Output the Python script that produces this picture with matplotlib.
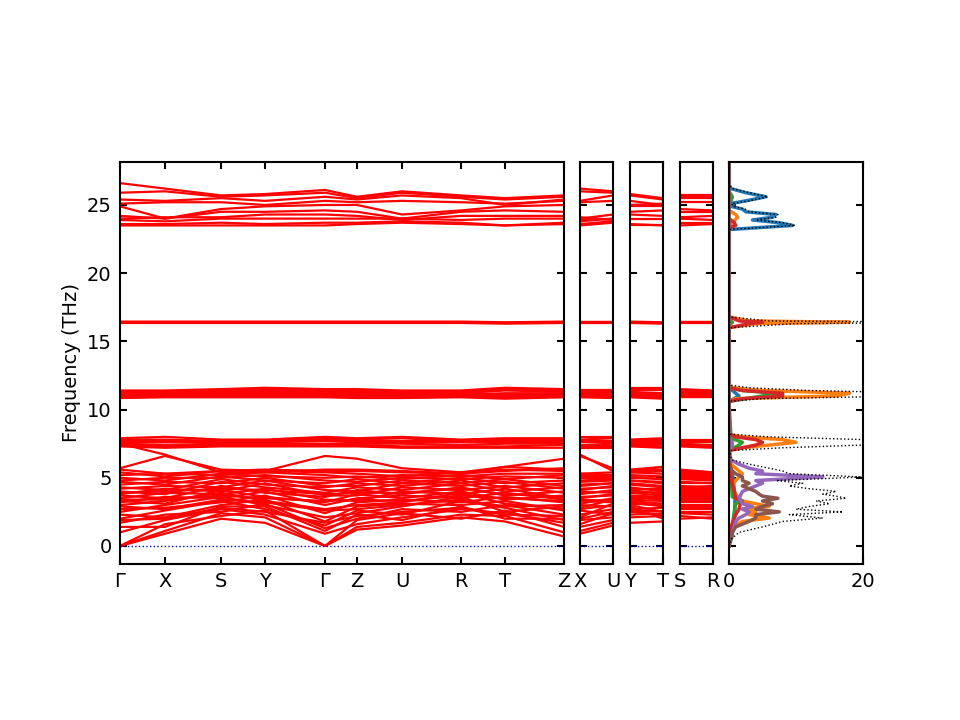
import matplotlib
matplotlib.use("Agg")
from matplotlib import pyplot as plt

# high-symmetry points along the main path (distance, label)
node_x = [0, 45, 101, 145, 205, 237, 282, 341, 385, 444]
node_labels = ["Γ", "X", "S", "Y", "Γ", "Z", "U", "R", "T", "Z"]

# side paths: indices into the main node list (start, end)
side_paths = [(1, 6, "X", "U"), (3, 8, "Y", "T"), (2, 7, "S", "R")]

# band frequencies (THz) at Γ X S Y Γ Z U R T Z
bands_top = [
    [26.6, 26.2, 25.7, 25.8, 26.1, 25.6, 26.0, 25.7, 25.5, 25.7],
    [25.9, 26.0, 25.6, 25.7, 25.9, 25.5, 25.9, 25.6, 25.4, 25.6],
    [25.4, 25.3, 25.5, 25.3, 25.6, 25.4, 25.7, 25.5, 25.0, 25.4],
    [25.1, 25.2, 25.2, 25.0, 25.3, 25.2, 25.3, 25.2, 25.1, 25.3],
    [24.9, 24.0, 24.7, 24.9, 25.0, 25.0, 24.3, 24.6, 24.9, 25.0],
    [24.2, 24.0, 24.5, 24.5, 24.6, 24.5, 24.0, 24.5, 24.6, 24.5],
    [24.0, 24.1, 24.1, 24.3, 24.3, 24.2, 23.9, 24.2, 24.2, 24.2],
    [23.9, 23.8, 24.0, 24.0, 24.0, 24.0, 24.0, 23.9, 24.0, 24.0],
    [23.6, 23.6, 23.7, 23.6, 23.7, 23.7, 23.8, 23.7, 23.5, 23.7],
    [23.5, 23.5, 23.5, 23.5, 23.5, 23.6, 23.7, 23.6, 23.5, 23.6],
]
bands_16 = [
    [16.45, 16.45, 16.45, 16.45, 16.45, 16.45, 16.45, 16.45, 16.4, 16.45],
    [16.4, 16.4, 16.4, 16.4, 16.4, 16.4, 16.4, 16.4, 16.35, 16.4],
    [16.35, 16.35, 16.35, 16.35, 16.35, 16.35, 16.35, 16.35, 16.3, 16.35],
]
bands_11 = [
    [11.4, 11.4, 11.5, 11.6, 11.5, 11.5, 11.4, 11.4, 11.6, 11.5],
    [11.3, 11.3, 11.4, 11.5, 11.4, 11.4, 11.3, 11.3, 11.5, 11.4],
    [11.2, 11.2, 11.3, 11.4, 11.3, 11.3, 11.2, 11.2, 11.4, 11.3],
    [11.2, 11.1, 11.2, 11.3, 11.2, 11.2, 11.1, 11.1, 11.2, 11.2],
    [11.1, 11.1, 11.1, 11.2, 11.1, 11.1, 11.1, 11.0, 11.1, 11.1],
    [11.0, 11.0, 11.0, 11.1, 11.0, 11.0, 11.0, 11.0, 11.0, 11.0],
    [10.9, 10.95, 10.95, 11.0, 10.95, 10.9, 10.9, 10.95, 10.9, 10.95],
    [10.85, 10.9, 10.9, 10.9, 10.9, 10.85, 10.85, 10.9, 10.8, 10.9],
]
bands_7 = [
    [7.9, 8.0, 7.8, 7.8, 8.0, 7.9, 8.0, 7.8, 7.9, 7.9],
    [7.8, 7.8, 7.7, 7.7, 7.9, 7.8, 7.9, 7.7, 7.8, 7.8],
    [7.7, 7.7, 7.7, 7.6, 7.8, 7.7, 7.7, 7.7, 7.7, 7.7],
    [7.6, 7.6, 7.6, 7.6, 7.7, 7.6, 7.6, 7.6, 7.6, 7.6],
    [7.5, 7.4, 7.5, 7.5, 7.5, 7.5, 7.5, 7.4, 7.5, 7.5],
    [7.4, 7.3, 7.4, 7.4, 7.4, 7.4, 7.3, 7.3, 7.3, 7.4],
    [7.3, 7.2, 7.3, 7.3, 7.3, 7.3, 7.2, 7.2, 7.2, 7.2],
]
bands_low = [
    [0.0, 0.9, 2.0, 1.7, 0.0, 1.2, 1.5, 2.1, 1.8, 0.7],
    [0.0, 1.1, 2.4, 2.1, 0.0, 1.4, 1.7, 2.3, 2.2, 1.0],
    [0.0, 1.6, 2.2, 2.6, 0.0, 1.9, 2.4, 2.0, 2.6, 1.4],
    [1.0, 1.9, 2.7, 2.3, 0.9, 1.6, 2.1, 2.7, 2.4, 1.7],
    [1.4, 1.4, 2.9, 2.9, 1.1, 2.3, 1.9, 2.9, 2.0, 2.0],
    [1.7, 2.3, 2.5, 3.1, 1.3, 2.0, 2.7, 2.5, 3.0, 2.3],
    [1.9, 2.0, 2.8, 2.5, 1.7, 2.2, 2.5, 2.8, 2.3, 2.2],
    [2.0, 2.6, 3.3, 2.7, 1.5, 2.6, 2.3, 3.3, 2.8, 1.9],
    [2.3, 2.1, 3.0, 3.4, 1.8, 2.9, 3.1, 3.0, 3.3, 2.6],
    [2.5, 3.0, 3.6, 3.0, 2.1, 2.4, 2.9, 3.6, 2.5, 2.9],
    [2.7, 2.8, 3.2, 3.7, 2.4, 3.2, 3.4, 3.2, 3.6, 3.2],
    [2.9, 2.7, 3.4, 3.2, 2.6, 2.7, 3.0, 3.4, 2.9, 3.0],
    [3.0, 3.3, 3.9, 3.3, 2.7, 3.0, 3.2, 3.9, 3.1, 2.7],
    [3.2, 3.6, 3.5, 4.0, 3.0, 3.5, 3.7, 3.5, 3.9, 3.4],
    [3.3, 3.1, 4.1, 3.6, 3.2, 3.8, 3.5, 4.0, 3.4, 3.7],
    [3.4, 3.4, 3.7, 3.5, 3.3, 3.4, 3.3, 3.7, 3.5, 3.3],
    [3.5, 3.9, 3.8, 4.2, 3.4, 3.3, 4.0, 3.8, 4.2, 3.5],
    [3.7, 3.5, 4.4, 3.9, 3.6, 4.1, 3.8, 4.3, 3.7, 4.0],
    [3.8, 4.2, 4.0, 4.6, 3.7, 3.7, 4.3, 4.1, 4.4, 3.9],
    [3.9, 4.0, 4.2, 4.1, 3.8, 3.9, 3.9, 4.2, 3.8, 3.6],
    [4.0, 3.8, 4.7, 4.3, 3.9, 4.3, 4.1, 4.6, 4.0, 4.3],
    [4.2, 4.4, 4.3, 4.8, 4.1, 4.0, 4.6, 4.4, 4.7, 4.2],
    [4.3, 4.1, 4.9, 4.5, 4.3, 4.6, 4.4, 4.8, 4.3, 4.6],
    [4.5, 4.7, 4.6, 5.0, 4.4, 4.4, 4.8, 4.6, 4.9, 4.4],
    [4.7, 4.5, 5.1, 4.8, 4.6, 4.9, 4.6, 5.0, 4.6, 4.8],
    [4.8, 5.0, 5.0, 5.2, 4.8, 4.7, 5.0, 4.9, 5.1, 5.0],
    [5.0, 4.8, 5.3, 5.1, 5.0, 5.1, 4.9, 5.2, 4.9, 5.2],
    [5.2, 5.3, 5.2, 5.4, 5.2, 5.0, 5.2, 5.1, 5.3, 5.3],
    [5.4, 5.1, 5.5, 5.5, 5.4, 5.3, 5.1, 5.4, 5.6, 5.5],
    [5.6, 5.3, 5.5, 5.6, 5.5, 5.5, 5.4, 5.3, 5.8, 5.6],
    [5.7, 6.6, 5.6, 5.5, 6.6, 6.4, 5.7, 5.4, 5.8, 6.4],
    [7.5, 6.7, 5.4, 5.4, 5.6, 5.6, 5.5, 5.3, 5.5, 5.7],
]
bands = bands_low + bands_7 + bands_11 + bands_16 + bands_top

# total DOS (frequency, states)
dos_freq = [0.0, 0.5, 1.0, 1.4, 1.8, 2.05, 2.3, 2.5, 2.7, 2.9, 3.1, 3.3, 3.5,
            3.65, 3.8, 4.0, 4.2, 4.4, 4.6, 4.8, 5.06, 5.3, 5.5, 5.7, 6.0, 6.3,
            6.6, 7.0, 7.2, 7.4, 7.6, 7.8, 8.0, 8.2, 10.6, 10.8, 11.0, 11.2,
            11.4, 11.6, 11.8, 16.0, 16.3, 16.4, 16.5, 16.8, 23.2, 23.5, 23.7,
            23.9, 24.1, 24.3, 24.5, 24.7, 24.9, 25.1, 25.3, 25.6, 25.9, 26.2,
            26.5, 28.0]
dos_total = [0, 0.3, 1.5, 5, 8, 14, 9, 17, 10, 12, 15, 13, 17.5,
             16, 14, 16, 12, 9, 11, 7, 20, 9, 8, 6, 3, 0.5,
             0.2, 0.3, 8, 20, 25, 20, 6, 0, 0, 5, 28, 30,
             12, 3, 0, 0, 10, 35, 6, 0, 0, 9.9, 8,
             4, 7, 7.3, 3, 2.4, 0.6, 0.4, 3, 5.8, 3, 0.5,
             0, 0]

# partial DOS, one (frequency, states) list per species
pdos_1 = [(0, 0), (0.6, 0.4), (2.0, 0.8), (3.5, 0.9), (5.0, 0.6), (6.2, 0.1), (10.6, 0),
          (11.0, 1.5), (11.2, 1.0), (11.6, 0), (23.2, 0), (23.5, 9.5), (23.7, 7.5),
          (23.9, 3.5), (24.1, 6.5), (24.3, 7.0), (24.5, 2.5), (24.7, 2.0), (24.9, 0.3),
          (25.1, 0.2), (25.3, 2.5), (25.6, 5.5), (25.9, 2.5), (26.2, 0.3), (26.5, 0), (28, 0)]
pdos_2 = [(0, 0), (1.4, 0.5), (1.8, 2), (2.05, 6), (2.3, 3), (2.5, 4), (2.7, 2), (2.9, 6),
          (3.1, 4), (3.3, 2), (3.5, 1.5), (3.8, 1), (4.4, 0.5), (4.8, 1), (5.3, 2), (5.5, 1.5),
          (6.0, 0.3), (7.0, 0), (7.2, 2), (7.4, 6), (7.6, 10), (7.8, 8), (8.0, 2), (8.2, 0),
          (10.6, 0), (10.8, 1), (11.0, 16), (11.2, 18), (11.4, 5), (11.6, 0.5), (11.8, 0),
          (16.0, 0), (16.3, 4), (16.4, 18), (16.5, 3), (16.8, 0), (23.4, 0), (23.7, 0.5),
          (24.1, 1.3), (24.3, 1.0), (24.6, 0), (28, 0)]
pdos_3 = [(0, 0), (2.5, 0.8), (3.1, 1), (3.3, 2), (3.6, 0.5), (7.0, 0), (7.4, 1.5), (7.6, 2),
          (7.9, 0.3), (10.6, 0), (11.0, 5), (11.2, 7), (11.4, 2), (11.6, 0), (16.2, 0),
          (16.4, 0.5), (16.6, 0), (25.1, 0), (25.3, 0.3), (25.6, 0.5), (26.0, 0), (28, 0)]
pdos_4 = [(0, 0), (1.4, 0.3), (2.3, 1), (2.7, 1.5), (3.3, 1.8), (3.5, 1), (4.0, 0.8), (5.0, 0.3),
          (7.0, 0), (7.2, 2), (7.4, 4), (7.6, 5), (7.8, 4), (8.0, 1), (8.2, 0), (10.6, 0),
          (10.8, 2), (11.0, 8), (11.2, 8), (11.4, 2), (11.6, 0), (16.0, 0), (16.3, 3),
          (16.4, 5), (16.5, 1.5), (16.8, 0), (23.3, 0), (23.5, 1.0), (23.7, 0.8), (24.0, 0), (28, 0)]
pdos_5 = [(0, 0), (1.0, 0.5), (1.8, 1), (2.05, 1.5), (2.3, 2.5), (2.5, 3), (2.7, 2), (2.9, 3.5),
          (3.1, 2), (3.5, 1.5), (4.0, 2), (4.2, 3), (4.4, 4), (4.6, 5), (4.8, 4), (5.06, 14),
          (5.3, 4), (5.5, 5), (5.7, 3), (6.0, 1.5), (6.3, 0.3), (7.0, 0), (7.3, 0.5), (7.6, 0.5),
          (8.0, 0), (28, 0)]
pdos_6 = [(0, 0), (1.0, 0.5), (1.4, 1), (1.8, 3), (2.05, 4), (2.3, 4), (2.5, 7.5), (2.7, 4),
          (2.9, 5), (3.1, 6.5), (3.3, 5), (3.5, 7.3), (3.65, 5), (3.8, 4.5), (4.0, 4), (4.2, 3),
          (4.4, 2), (4.6, 3), (4.8, 2), (5.06, 2), (5.3, 1), (5.5, 0.5), (6.0, 0), (28, 0)]
pdos_all = [pdos_1, pdos_2, pdos_3, pdos_4, pdos_5, pdos_6]

ylim = (-1.32, 28.15)
yticks = [0, 5, 10, 15, 20, 25]

plt.rcParams["font.size"] = 14
plt.rcParams["axes.linewidth"] = 1.5

fig = plt.figure(figsize=(9.6, 7.2), dpi=100)
W, H = 960.0, 720.0


def pix_axes(x0, x1, y0=162, y1=564):
    return fig.add_axes([x0 / W, 1 - y1 / H, (x1 - x0) / W, (y1 - y0) / H])


def style(ax):
    ax.tick_params(direction="in", length=5, width=1.5, top=True, right=True, pad=6)
    ax.set_ylim(*ylim)
    ax.set_yticks(yticks)


# main path
ax = pix_axes(120, 564)
for b in bands:
    ax.plot(node_x, b, "r-", lw=1.6)
ax.axhline(0, color="b", ls=":", lw=1)
ax.set_xlim(node_x[0], node_x[-1])
ax.set_xticks(node_x)
ax.set_xticklabels(node_labels)
style(ax)
ax.set_ylabel("Frequency (THz)")

# side paths
for (i0, i1, l0, l1), x0 in zip(side_paths, [580, 630, 680]):
    axs = pix_axes(x0, x0 + 33)
    for b in bands:
        axs.plot([0, 33], [b[i0], b[i1]], "r-", lw=1.6)
    axs.axhline(0, color="b", ls=":", lw=1)
    axs.set_xlim(0, 33)
    axs.set_xticks([0, 33])
    axs.set_xticklabels([l0, l1])
    style(axs)
    axs.set_yticklabels([])

# DOS
axd = pix_axes(729, 863)
for i, p in enumerate(pdos_all):
    axd.plot([v[1] for v in p], [v[0] for v in p], color="C%d" % i, lw=2.5)
axd.plot(dos_total, dos_freq, "k:", lw=1)
axd.set_xlim(0, 20)
axd.set_xticks([0, 20])
style(axd)
axd.set_yticklabels([])

fig.savefig("out.png", dpi=100)
